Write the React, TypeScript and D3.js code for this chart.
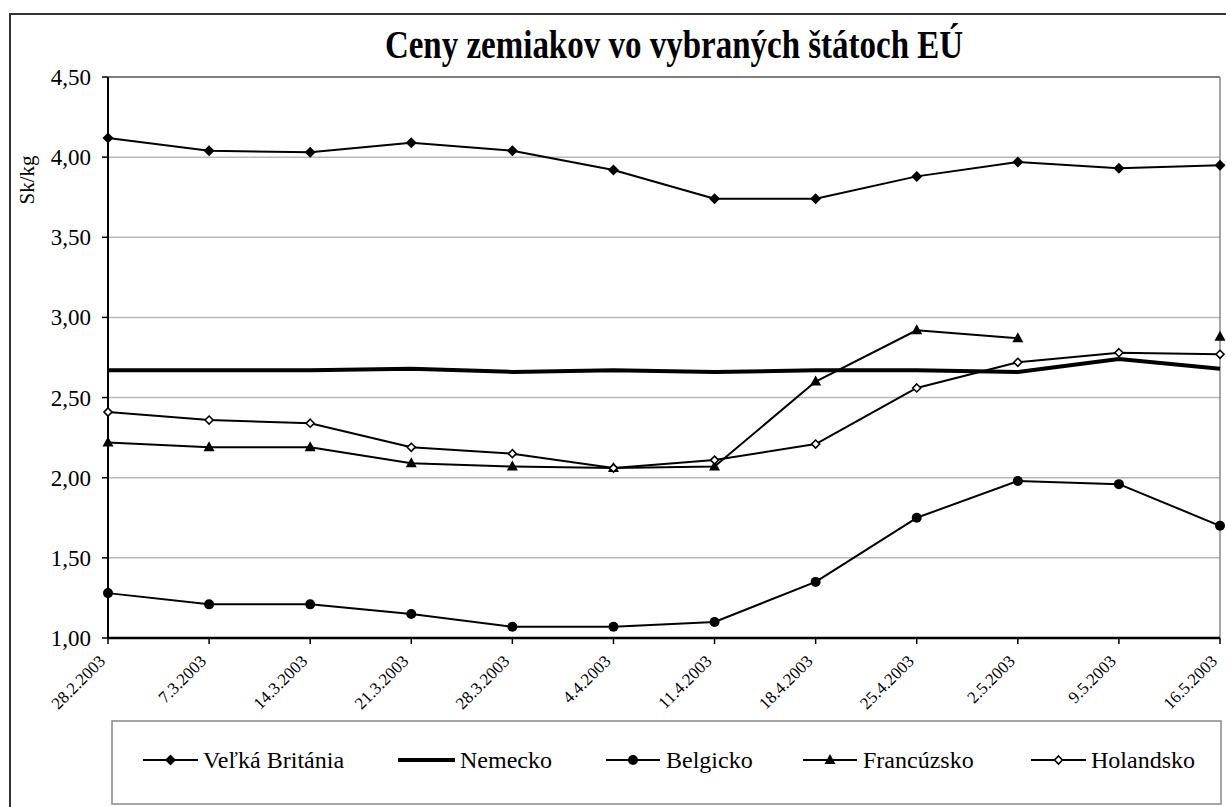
import React from "react";
import * as d3 from "d3";

const dates = ["28.2.2003","7.3.2003","14.3.2003","21.3.2003","28.3.2003","4.4.2003","11.4.2003","18.4.2003","25.4.2003","2.5.2003","9.5.2003","16.5.2003"];
const velkaBritania = [4.12,4.04,4.03,4.09,4.04,3.92,3.74,3.74,3.88,3.97,3.93,3.95];
const nemecko = [2.67,2.67,2.67,2.68,2.66,2.67,2.66,2.67,2.67,2.66,2.74,2.68];
const belgicko = [1.28,1.21,1.21,1.15,1.07,1.07,1.10,1.35,1.75,1.98,1.96,1.70];
const francuzsko: (number | null)[] = [2.22,2.19,2.19,2.09,2.07,2.06,2.07,2.60,2.92,2.87,null,2.88];
const holandsko = [2.41,2.36,2.34,2.19,2.15,2.06,2.11,2.21,2.56,2.72,2.78,2.77];
const yTicks = [1.0,1.5,2.0,2.5,3.0,3.5,4.0,4.5];
const title = "Ceny zemiakov vo vybraných štátoch EÚ";
const yTitle = "Sk/kg";

type Marker = "diamond" | "none" | "circle" | "triangle" | "hollowDiamond";
const series: { name: string; values: (number | null)[]; marker: Marker; width: number }[] = [
  { name: "Veľká Británia", values: velkaBritania, marker: "diamond", width: 2 },
  { name: "Nemecko", values: nemecko, marker: "none", width: 4 },
  { name: "Belgicko", values: belgicko, marker: "circle", width: 2 },
  { name: "Francúzsko", values: francuzsko, marker: "triangle", width: 2 },
  { name: "Holandsko", values: holandsko, marker: "hollowDiamond", width: 2 },
];

const FONT = "'Liberation Serif', 'DejaVu Serif', serif";

function MarkerShape({ type, x, y }: { type: Marker; x: number; y: number }) {
  if (type === "diamond") {
    const s = 5.5;
    return <path d={`M${x},${y - s}L${x + s},${y}L${x},${y + s}L${x - s},${y}Z`} fill="#000" />;
  }
  if (type === "hollowDiamond") {
    const s = 4;
    return <path d={`M${x},${y - s}L${x + s},${y}L${x},${y + s}L${x - s},${y}Z`} fill="#fff" stroke="#000" strokeWidth={1.6} />;
  }
  if (type === "circle") return <circle cx={x} cy={y} r={5} fill="#000" />;
  if (type === "triangle") {
    return <path d={`M${x},${y - 6}L${x + 5.5},${y + 4}L${x - 5.5},${y + 4}Z`} fill="#000" />;
  }
  return null;
}

export default function App() {
  const W = 1226, H = 807;
  const left = 108, right = 1220, top = 77, bottom = 638;
  const x = d3.scalePoint<string>().domain(dates).range([left, right]);
  const y = d3.scaleLinear().domain([1, 4.5]).range([bottom, top]);

  const legendItems = [
    { lx1: 143, lx2: 198, tx: 203 },
    { lx1: 398, lx2: 455, tx: 460 },
    { lx1: 606, lx2: 660, tx: 666 },
    { lx1: 803, lx2: 857, tx: 863 },
    { lx1: 1031, lx2: 1086, tx: 1091 },
  ];

  return (
    <svg width={W} height={H} style={{ position: "absolute", left: 0, top: 0, display: "block", background: "#fff", fontFamily: FONT }}>
      <rect x={0} y={0} width={W} height={H} fill="#fff" />
      <rect x={10} y={14} width={1240} height={820} fill="none" stroke="#333" strokeWidth={2} />
      <text transform="translate(674,58) scale(1,1.2)" textAnchor="middle" fontSize={33} fontWeight="bold" fill="#000" style={{ fontFamily: FONT }}>{title}</text>
      {yTicks.filter((t) => t > 1 && t < 4.5).map((t) => (
        <line key={t} x1={left} x2={right} y1={y(t)} y2={y(t)} stroke="#b8b8b8" strokeWidth={1.5} />
      ))}
      <line x1={left} x2={right} y1={y(4.5)} y2={y(4.5)} stroke="#555" strokeWidth={1.5} />
      <line x1={right} x2={right} y1={top} y2={bottom} stroke="#888" strokeWidth={1.5} />
      <line x1={left} x2={left} y1={top} y2={bottom} stroke="#000" strokeWidth={2} />
      {yTicks.map((t) => (
        <g key={t}>
          <line x1={left - 6} x2={left} y1={y(t)} y2={y(t)} stroke="#000" strokeWidth={1.5} />
          <text x={91} y={y(t)} dy="0.35em" textAnchor="end" fontSize={23} fill="#000" style={{ fontFamily: FONT }}>
            {d3.format(".2f")(t).replace(".", ",")}
          </text>
        </g>
      ))}
      <text transform="translate(34,180) rotate(-90)" textAnchor="middle" fontSize={21} fill="#000" style={{ fontFamily: FONT }}>{yTitle}</text>
      <line x1={left} x2={right} y1={bottom} y2={bottom} stroke="#000" strokeWidth={2.5} />
      {dates.map((d) => (
        <g key={d}>
          <line x1={x(d)!} x2={x(d)!} y1={bottom} y2={bottom + 6} stroke="#000" strokeWidth={1.5} />
          <text transform={`translate(${x(d)! - 6},${bottom + 20}) rotate(-45)`} textAnchor="end" dy="0.35em" fontSize={17} fill="#000" style={{ fontFamily: FONT }}>{d}</text>
        </g>
      ))}
      {series.map((s) => {
        const line = d3.line<number | null>()
          .defined((v) => v !== null)
          .x((_, i) => x(dates[i])!)
          .y((v) => y(v as number));
        return (
          <g key={s.name}>
            <path d={line(s.values) || ""} fill="none" stroke="#000" strokeWidth={s.width} strokeLinejoin="round" />
            {s.values.map((v, i) => (v === null ? null : <MarkerShape key={i} type={s.marker} x={x(dates[i])!} y={y(v)} />))}
          </g>
        );
      })}
      <rect x={112} y={721} width={1109} height={83} fill="#fff" stroke="#888" strokeWidth={1.5} />
      {series.map((s, i) => {
        const it = legendItems[i];
        const ly = 760;
        return (
          <g key={s.name}>
            <line x1={it.lx1} x2={it.lx2} y1={ly} y2={ly} stroke="#000" strokeWidth={s.width === 4 ? 4 : 2} />
            <MarkerShape type={s.marker} x={(it.lx1 + it.lx2) / 2} y={ly} />
            <text x={it.tx} y={ly} dy="0.35em" fontSize={24} fill="#000" style={{ fontFamily: FONT }}>{s.name}</text>
          </g>
        );
      })}
    </svg>
  );
}
